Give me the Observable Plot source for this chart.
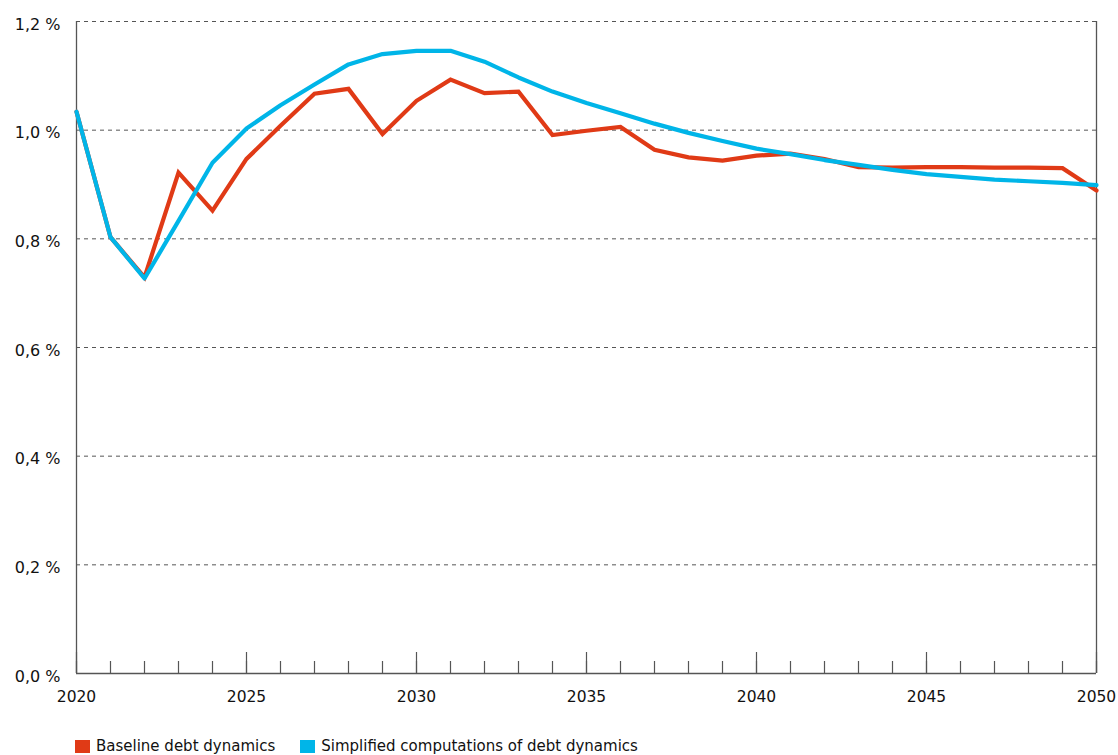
<!DOCTYPE html>
<html>
<head>
<meta charset="utf-8">
<script src="https://cdn.jsdelivr.net/npm/d3@7"></script>
<script src="https://cdn.jsdelivr.net/npm/@observablehq/plot@0.6"></script>
<style>
  body { margin: 0; background: #fff; font-family: "DejaVu Sans", sans-serif; }
  #legend { display: flex; gap: 25px; margin-left: 75px; margin-top: 16px; font-size: 15px; line-height: 16px; color: #111; }
  .item { display: flex; align-items: center; }
  .sw { width: 15px; height: 13px; margin-right: 6px; display: inline-block; }
  svg [aria-label="y-axis tick label"] text { font-size: 16px; }
</style>
</head>
<body>
<div id="chart"></div>
<div id="legend"></div>
<script>
const years = d3.range(2020, 2051);
const baseline = [1.034, 0.803, 0.729, 0.922, 0.852, 0.947, 1.008, 1.067, 1.076, 0.993,
  1.054, 1.093, 1.068, 1.071, 0.991, 0.999, 1.006, 0.964, 0.950, 0.944,
  0.953, 0.957, 0.947, 0.932, 0.931, 0.932, 0.932, 0.931, 0.931, 0.930, 0.889];
const simplified = [1.034, 0.803, 0.727, 0.833, 0.940, 1.003, 1.046, 1.084, 1.121, 1.140,
  1.146, 1.146, 1.126, 1.097, 1.071, 1.050, 1.031, 1.012, 0.995, 0.980,
  0.966, 0.956, 0.945, 0.936, 0.927, 0.919, 0.914, 0.909, 0.906, 0.903, 0.899];
const seriesNames = ["Baseline debt dynamics", "Simplified computations of debt dynamics"];
const seriesColors = ["#e03a16", "#00b5e8"];
const yTicks = [0, 0.2, 0.4, 0.6, 0.8, 1.0, 1.2];
const majorYears = [2020, 2025, 2030, 2035, 2040, 2045, 2050];

const rows = [];
years.forEach((y, i) => {
  rows.push({year: y, value: baseline[i], series: seriesNames[0]});
});
years.forEach((y, i) => {
  rows.push({year: y, value: simplified[i], series: seriesNames[1]});
});

const width = 1118, height = 722, mt = 21, mb = 49, ml = 76, mr = 22;
const innerH = height - mt - mb;
const fmtY = v => v.toFixed(1).replace(".", ",") + " %";

const chart = Plot.plot({
  width, height,
  marginTop: mt, marginBottom: mb, marginLeft: ml, marginRight: mr,
  style: {fontFamily: "'DejaVu Sans', sans-serif", fontSize: "15.5px", color: "#111", background: "#fff"},
  x: {domain: [2020, 2050]},
  y: {domain: [0, 1.2]},
  color: {domain: seriesNames, range: seriesColors},
  marks: [
    Plot.gridY(yTicks.filter(d => d > 0), {stroke: "#555", strokeOpacity: 1, strokeWidth: 1, strokeDasharray: "4,4"}),
    Plot.ruleX([2020, 2050], {stroke: "#555", strokeWidth: 1.3}),
    Plot.ruleY([0], {stroke: "#555", strokeWidth: 1.3}),
    Plot.tickX(years, {x: d => d, stroke: "#555", strokeWidth: 1.2, insetTop: innerH - 12}),
    Plot.tickX(majorYears, {x: d => d, stroke: "#555", strokeWidth: 1.2, insetTop: innerH - 21}),
    Plot.axisX(majorYears, {tickSize: 0, tickPadding: 17, tickFormat: d => String(d), label: null}),
    Plot.axisY(yTicks, {tickSize: 0, tickPadding: 16, tickFormat: fmtY, label: null, dy: 3}),
    Plot.line(rows.filter(r => r.series === seriesNames[0]), {x: "year", y: "value", stroke: "series", strokeWidth: 4.2, strokeLinejoin: "miter", strokeMiterlimit: 4}),
    Plot.line(rows.filter(r => r.series === seriesNames[1]), {x: "year", y: "value", stroke: "series", strokeWidth: 4.2, strokeLinejoin: "round"})
  ]
});
document.getElementById("chart").appendChild(chart);

const legend = document.getElementById("legend");
seriesNames.forEach((n, i) => {
  const it = document.createElement("div");
  it.className = "item";
  it.innerHTML = `<span class="sw" style="background:${seriesColors[i]}"></span><span>${n}</span>`;
  legend.appendChild(it);
});
</script>
</body>
</html>
